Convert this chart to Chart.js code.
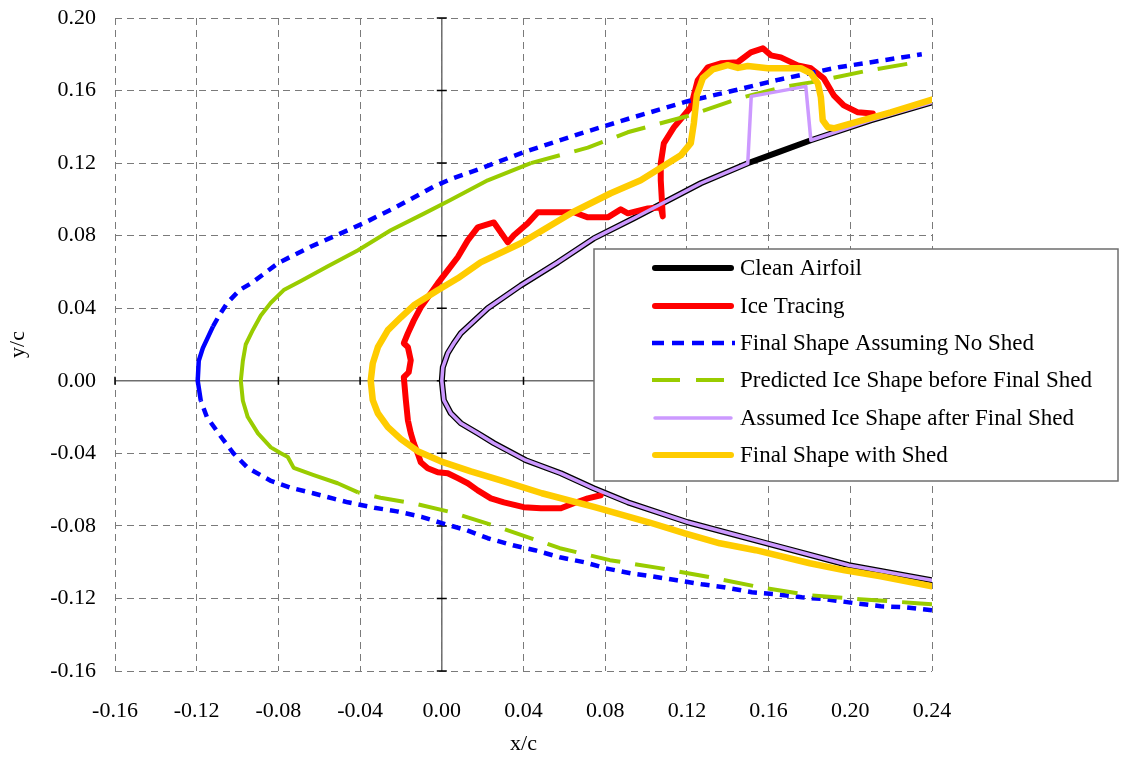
<!DOCTYPE html>
<html><head><meta charset="utf-8">
<script src="https://cdn.jsdelivr.net/npm/chart.js@4/dist/chart.umd.min.js"></script>
<style>html,body{margin:0;padding:0;background:#fff}#wrap{width:1146px;height:757px}</style>
</head><body><div id="wrap"><canvas id="c" width="1146" height="757"></canvas></div>
<script>
// ---------- DATA (x/c, y/c) ----------
const cleanX = [0.24, 0.1993, 0.1591, 0.1204, 0.0911, 0.0744, 0.0583, 0.0411, 0.0255, 0.0176, 0.0093, 0.0044, 0.001, 0, 0.0005, 0.0029, 0.0059, 0.0093, 0.0225, 0.0387, 0.0568, 0.0744, 0.094, 0.1268, 0.1498, 0.1645, 0.1807, 0.210, 0.24];
const cleanY = [-0.110, -0.1017, -0.0896, -0.078, -0.067, -0.0593, -0.051, -0.0438, -0.0344, -0.0289, -0.0234, -0.0179, -0.0107, 0, 0.0074, 0.0152, 0.0207, 0.0262, 0.040, 0.0526, 0.0653, 0.0785, 0.0896, 0.1089, 0.1199, 0.1259, 0.1326, 0.1436, 0.1535];

const iceX = [0.0778, 0.0715, 0.0646, 0.0583, 0.0485, 0.0401, 0.0304, 0.024, 0.0176, 0.0127, 0.0078, 0.0029, -0.002, -0.0069, -0.0103, -0.0118, -0.0137, -0.0152, -0.0166, -0.0176, -0.0186, -0.0162, -0.0152, -0.0166, -0.0186, -0.0166, -0.0137, -0.0103, -0.0054, -0.002, 0.0029, 0.0078, 0.0127, 0.0176, 0.0255, 0.0323, 0.0353, 0.0421, 0.047, 0.0646, 0.0715, 0.0813, 0.0876, 0.0911, 0.1009, 0.1072, 0.1082, 0.1072, 0.1072, 0.1087, 0.1136, 0.1219, 0.1253, 0.1302, 0.1366, 0.1449, 0.1513, 0.1572, 0.1611, 0.166, 0.1743, 0.1807, 0.187, 0.1919, 0.1968, 0.2037, 0.211];
const iceY = [-0.0631, -0.0648, -0.0675, -0.0703, -0.0703, -0.0697, -0.067, -0.0648, -0.0604, -0.0565, -0.0537, -0.051, -0.0504, -0.0482, -0.0449, -0.040, -0.0345, -0.0289, -0.0218, -0.0107, 0.002, 0.0047, 0.0113, 0.0185, 0.0207, 0.0262, 0.0333, 0.0405, 0.0482, 0.0537, 0.0609, 0.0681, 0.0774, 0.0846, 0.0873, 0.0763, 0.0802, 0.0868, 0.0929, 0.0929, 0.0901, 0.0901, 0.0945, 0.0923, 0.095, 0.0956, 0.0906, 0.1105, 0.1199, 0.1309, 0.1397, 0.1508, 0.1657, 0.1728, 0.175, 0.1756, 0.1811, 0.1833, 0.1794, 0.1783, 0.1739, 0.1723, 0.1667, 0.1574, 0.1518, 0.148, 0.1474];

const noShedX = [0.24, 0.2272, 0.2149, 0.2027, 0.1885, 0.1763, 0.164, 0.1518, 0.1381, 0.1273, 0.1151, 0.1028, 0.0925, 0.0803, 0.070, 0.0578, 0.0455, 0.0348, 0.0225, 0.0122, 0.000, -0.010, -0.022, -0.033, -0.046, -0.053, -0.063, -0.074, -0.084, -0.095, -0.102, -0.108, -0.115, -0.118, -0.1195, -0.119, -0.117, -0.112, -0.109, -0.105, -0.099, -0.093, -0.080, -0.064, -0.050, -0.038, -0.022, -0.004, 0.004, 0.019, 0.040, 0.067, 0.093, 0.120, 0.143, 0.165, 0.195, 0.218, 0.235];
const noShedY = [-0.1265, -0.1249, -0.1243, -0.1227, -0.1205, -0.1194, -0.1177, -0.1166, -0.1138, -0.1122, -0.110, -0.1078, -0.1061, -0.1034, -0.1001, -0.0973, -0.0934, -0.0907, -0.0868, -0.0824, -0.0785, -0.075, -0.072, -0.070, -0.067, -0.065, -0.062, -0.059, -0.055, -0.048, -0.040, -0.031, -0.020, -0.011, 0.000, 0.011, 0.018, 0.030, 0.036, 0.043, 0.050, 0.054, 0.065, 0.074, 0.081, 0.087, 0.096, 0.107, 0.111, 0.117, 0.126, 0.136, 0.145, 0.154, 0.160, 0.166, 0.173, 0.177, 0.180];

const predictedX = [0.24, 0.2326, 0.2047, 0.1802, 0.1557, 0.1312, 0.1067, 0.0823, 0.0578, 0.0294, 0.0049, -0.0142, -0.030, -0.041, -0.051, -0.0627, -0.0725, -0.0754, -0.0788, -0.0837, -0.090, -0.095, -0.0974, -0.0984, -0.0974, -0.096, -0.0925, -0.0886, -0.0837, -0.0774, -0.069, -0.056, -0.041, -0.025, -0.009, 0.004, 0.0225, 0.0436, 0.0715, 0.091, 0.1204, 0.1464, 0.1674, 0.1807, 0.2086, 0.2345];
const predictedY = [-0.1232, -0.1226, -0.1204, -0.1182, -0.1138, -0.1083, -0.1033, -0.0989, -0.0923, -0.0813, -0.0725, -0.0675, -0.0645, -0.0615, -0.0565, -0.052, -0.048, -0.042, -0.040, -0.0367, -0.029, -0.020, -0.011, 0.000, 0.011, 0.020, 0.028, 0.036, 0.043, 0.050, 0.055, 0.063, 0.072, 0.083, 0.092, 0.0995, 0.1105, 0.120, 0.1285, 0.137, 0.146, 0.156, 0.162, 0.1645, 0.171, 0.176];

const assumedX = [0.24, 0.1993, 0.1591, 0.1204, 0.0911, 0.0744, 0.0583, 0.0411, 0.0255, 0.0176, 0.0093, 0.0044, 0.001, 0, 0.0005, 0.0029, 0.0059, 0.0093, 0.0225, 0.0387, 0.0568, 0.0744, 0.094, 0.1268, 0.1498, 0.1515, 0.1782, 0.1807, 0.210, 0.24];
const assumedY = [-0.110, -0.1017, -0.0896, -0.078, -0.067, -0.0593, -0.051, -0.0438, -0.0344, -0.0289, -0.0234, -0.0179, -0.0107, 0, 0.0074, 0.0152, 0.0207, 0.0262, 0.040, 0.0526, 0.0653, 0.0785, 0.0896, 0.1089, 0.1199, 0.1568, 0.1623, 0.1326, 0.1436, 0.1535];

const withShedX = [0.24, 0.2149, 0.1973, 0.1802, 0.1537, 0.1361, 0.119, 0.1013, 0.0749, 0.049, 0.0289, 0.0142, -0.0005, -0.0118, -0.020, -0.0264, -0.0313, -0.0338, -0.0348, -0.0338, -0.0313, -0.0264, -0.020, -0.0137, -0.002, 0.0078, 0.019, 0.0387, 0.0641, 0.0827, 0.0974, 0.117, 0.1219, 0.1234, 0.1249, 0.1278, 0.1327, 0.140, 0.145, 0.1498, 0.1596, 0.1758, 0.1807, 0.1841, 0.1856, 0.1865, 0.189, 0.1919, 0.1988, 0.2198, 0.24];
const withShedY = [-0.1133, -0.1078, -0.1045, -0.1006, -0.0934, -0.0896, -0.0841, -0.078, -0.0697, -0.062, -0.0549, -0.0499, -0.0444, -0.0388, -0.0322, -0.0256, -0.0179, -0.0107, 0.000, 0.0096, 0.0185, 0.0279, 0.035, 0.0416, 0.0499, 0.0565, 0.0653, 0.0758, 0.0929, 0.1034, 0.1105, 0.1243, 0.131, 0.142, 0.1577, 0.1669, 0.1717, 0.174, 0.1725, 0.1735, 0.1723, 0.1723, 0.1695, 0.164, 0.1563, 0.1436, 0.1398, 0.1392, 0.1414, 0.148, 0.155];

const seriesLabels = ['Clean Airfoil', 'Ice Tracing', 'Final Shape Assuming No Shed', 'Predicted Ice Shape before Final Shed', 'Assumed Ice Shape after Final Shed', 'Final Shape with Shed'];
const xTicks = [-0.16, -0.12, -0.08, -0.04, 0.00, 0.04, 0.08, 0.12, 0.16, 0.20, 0.24];
const yTicks = [-0.16, -0.12, -0.08, -0.04, 0.00, 0.04, 0.08, 0.12, 0.16, 0.20];

// ---------- helpers ----------
const pts = (xs, ys) => xs.map((x, i) => ({x: x, y: ys[i]}));
const fmt = v => { const r = Math.round(v * 100) / 100; return (Math.abs(r) < 1e-9 ? 0 : r).toFixed(2); };
const FONT = 'Liberation Serif, Times New Roman, serif';

// solid (non-dashed) look near the leading edge, as in the original where points are dense
const blueSolid = i => noShedX[i] < -0.105 && noShedY[i] > -0.015 && noShedY[i] < 0.035;
const greenSolid = i => predictedY[i] >= 0 ? predictedX[i] < 0.05 : predictedX[i] < -0.035;

const axesPlugin = {
  id: 'zeroAxes',
  beforeDatasetsDraw(chart) {
    const {ctx, chartArea: a, scales: {x, y}} = chart;
    const x0 = x.getPixelForValue(0), y0 = y.getPixelForValue(0);
    ctx.save();
    ctx.strokeStyle = '#6e6e6e';
    ctx.lineWidth = 1.5;
    ctx.beginPath();
    ctx.moveTo(a.left, y0); ctx.lineTo(a.right, y0);
    ctx.moveTo(x0, a.top); ctx.lineTo(x0, a.bottom);
    ctx.stroke();
    ctx.strokeStyle = '#000';
    ctx.lineWidth = 1.5;
    ctx.beginPath();
    xTicks.forEach(v => { const p = x.getPixelForValue(v); ctx.moveTo(p, y0 - 4); ctx.lineTo(p, y0 + 4); });
    yTicks.forEach(v => { const p = y.getPixelForValue(v); ctx.moveTo(x0 - 5, p); ctx.lineTo(x0 + 5, p); });
    ctx.stroke();
    ctx.restore();
  }
};

const legendPlugin = {
  id: 'boxLegend',
  afterDraw(chart) {
    const {ctx} = chart;
    const L = 594, T = 249, R = 1118, B = 481;
    ctx.save();
    ctx.fillStyle = '#fff';
    ctx.fillRect(L, T, R - L, B - T);
    ctx.strokeStyle = '#6e6e6e';
    ctx.lineWidth = 1.5;
    ctx.strokeRect(L, T, R - L, B - T);
    const rows = [268, 306, 343, 380, 418, 455];
    chart.data.datasets.forEach((ds, i) => {
      const yy = rows[i];
      ctx.save();
      ctx.strokeStyle = ds.borderColor;
      ctx.lineWidth = ds.legendWidth;
      const dashed = ds.borderDash && ds.borderDash.length;
      ctx.lineCap = dashed ? 'butt' : 'round';
      ctx.setLineDash(dashed ? ds.legendDash : []);
      ctx.beginPath();
      ctx.moveTo(dashed ? 652 : 655, yy);
      ctx.lineTo(dashed ? 735 : 731, yy);
      ctx.stroke();
      ctx.restore();
      ctx.fillStyle = '#000';
      ctx.font = '23px ' + FONT;
      ctx.textBaseline = 'middle';
      ctx.textAlign = 'left';
      ctx.fillText(ds.label, 740, yy + 1);
    });
    ctx.restore();
  }
};

const common = {showLine: true, pointRadius: 0, pointHoverRadius: 0, fill: false, tension: 0, borderJoinStyle: 'round'};

new Chart(document.getElementById('c'), {
  type: 'scatter',
  data: {
    datasets: [
      Object.assign({}, common, {label: seriesLabels[0], data: pts(cleanX, cleanY), borderColor: '#000000', borderWidth: 6, borderCapStyle: 'round', order: 5, legendWidth: 6}),
      Object.assign({}, common, {label: seriesLabels[1], data: pts(iceX, iceY), borderColor: '#FF0000', borderWidth: 6, borderCapStyle: 'round', order: 4, legendWidth: 6}),
      Object.assign({}, common, {label: seriesLabels[2], data: pts(noShedX, noShedY), borderColor: '#0000FF', borderWidth: 4.5, borderDash: [9, 7], borderCapStyle: 'butt', order: 3, legendWidth: 4.5, legendDash: [12, 8],
        segment: {borderDash: c => (blueSolid(c.p0DataIndex) && blueSolid(c.p1DataIndex)) ? [] : undefined}}),
      Object.assign({}, common, {label: seriesLabels[3], data: pts(predictedX, predictedY), borderColor: '#99CC00', borderWidth: 4, borderDash: [30, 15], borderCapStyle: 'butt', order: 2, legendWidth: 4, legendDash: [28, 16],
        segment: {borderDash: c => (greenSolid(c.p0DataIndex) && greenSolid(c.p1DataIndex)) ? [] : undefined}}),
      Object.assign({}, common, {label: seriesLabels[4], data: pts(assumedX, assumedY), borderColor: '#CC99FF', borderWidth: 3.5, borderCapStyle: 'round', order: 1, legendWidth: 3.5}),
      Object.assign({}, common, {label: seriesLabels[5], data: pts(withShedX, withShedY), borderColor: '#FFCC00', borderWidth: 6.5, borderCapStyle: 'round', order: 0, legendWidth: 6})
    ]
  },
  options: {
    responsive: false,
    animation: false,
    devicePixelRatio: 1,
    layout: {padding: {top: 18, right: 214, left: 0, bottom: 0}},
    plugins: {legend: {display: false}, tooltip: {enabled: false}},
    events: [],
    scales: {
      x: {
        type: 'linear', min: -0.16, max: 0.24,
        afterFit: s => { s.height = 86; s.paddingLeft = 0; s.paddingRight = 0; },
        afterBuildTicks: s => { s.ticks = xTicks.map(v => ({value: v})); },
        ticks: {stepSize: 0.04, autoSkip: false, maxRotation: 0, padding: 27, color: '#000', font: {family: FONT, size: 22}, callback: v => fmt(v)},
        grid: {color: '#7a7a7a', lineWidth: 1, drawTicks: false},
        border: {display: false, dash: [7, 5]},
        title: {display: true, text: 'x/c', color: '#000', font: {family: FONT, size: 22}, padding: {top: 0, bottom: 0}}
      },
      y: {
        type: 'linear', min: -0.16, max: 0.20,
        afterFit: s => { s.width = 115; s.paddingTop = 0; s.paddingBottom = 0; },
        afterBuildTicks: s => { s.ticks = yTicks.map(v => ({value: v})); },
        ticks: {stepSize: 0.04, autoSkip: false, padding: 19, color: '#000', font: {family: FONT, size: 22}, callback: v => fmt(v)},
        grid: {color: '#7a7a7a', lineWidth: 1, drawTicks: false},
        border: {display: false, dash: [7, 5]},
        title: {display: true, text: 'y/c', color: '#000', font: {family: FONT, size: 22}, padding: {top: 5, bottom: 0}}
      }
    }
  },
  plugins: [axesPlugin, legendPlugin]
});
</script></body></html>
